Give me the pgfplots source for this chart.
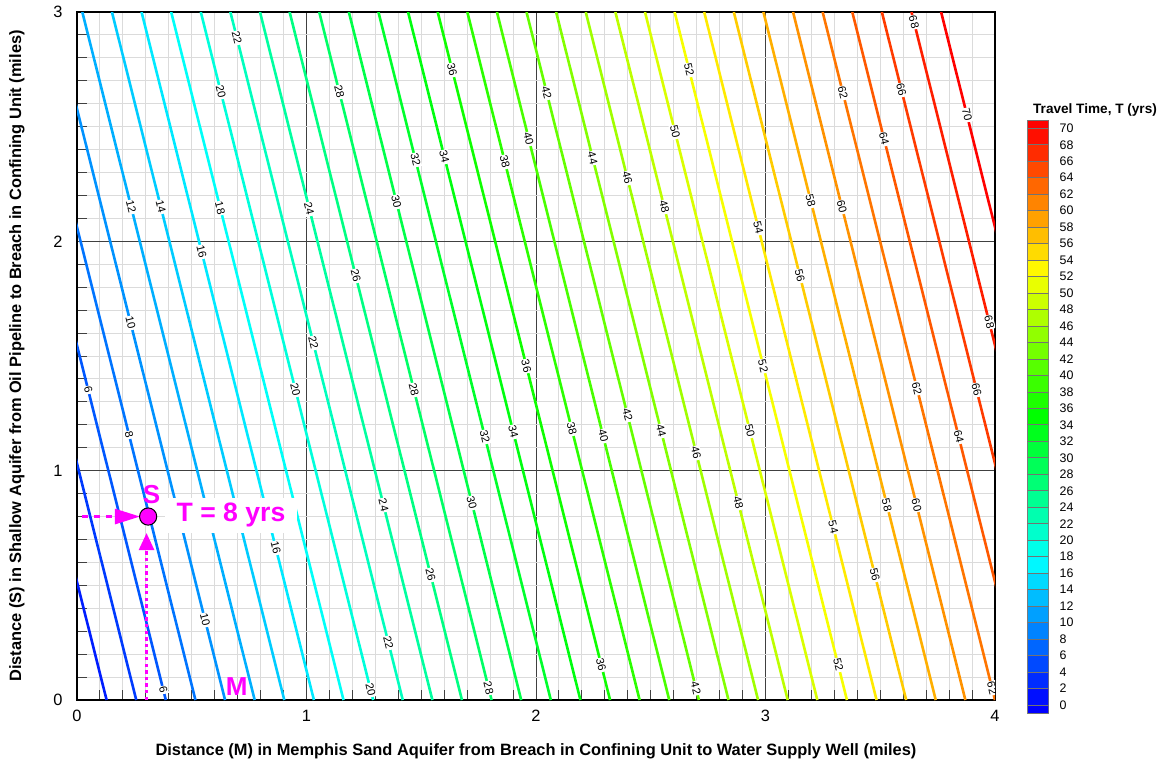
\documentclass[border=0pt]{standalone}
\usepackage{fontspec}
\setmainfont{Liberation Sans}
\usepackage{pgfplots}
\pgfplotsset{compat=1.18}
\usetikzlibrary{arrows.meta}
\definecolor{mag}{RGB}{255,0,255}
\pgfplotsset{colormap={tec}{rgb255=(0,0,255) rgb255=(0,255,255) rgb255=(0,255,0) rgb255=(255,255,0) rgb255=(255,0,0)}}
\pgfplotsset{ct/.style={mesh, line width=1.3pt, no markers, point meta=#1}}
\tikzset{cl/.style={font=\fontsize{5.6}{6}\selectfont, rotate=-76, fill=white, inner sep=0.5pt}}
\begin{document}
\begin{tikzpicture}
\path[use as bounding box] (-38.5pt,-34pt) rectangle (544pt,350pt);
\begin{axis}[
  at={(0pt,0pt)}, anchor=south west,
  scale only axis, width=459pt, height=344pt,
  xmin=0, xmax=4, ymin=0, ymax=3,
  xtick={0,1,2,3,4}, ytick={0,1,2,3},
  minor tick num=9,
  grid=both,
  minor grid style={black!14, line width=0.5pt},
  major grid style={black!75, line width=0.5pt},
  tick pos=left, tick align=inside,
  major tick length=5pt, minor tick length=5pt,
  tick style={black!75, line width=0.5pt},
  axis line style={black, line width=0.9pt},
  /pgf/number format/assume math mode=true,
  ticklabel style={font=\fontsize{8.2}{10}\selectfont},
  xticklabel style={anchor=north, inner sep=0pt, yshift=-5pt},
  yticklabel style={anchor=east, inner sep=0pt, xshift=-7pt},
  point meta min=0, point meta max=70,
]
\addplot[ct=2] coordinates {(0.1290,0) (-0.6232,3)};
\addplot[ct=4] coordinates {(0.2581,0) (-0.4929,3)};
\addplot[ct=6] coordinates {(0.3871,0) (-0.3639,3)};
\addplot[ct=8] coordinates {(0.5161,0) (-0.2348,3)};
\addplot[ct=10] coordinates {(0.6452,0) (-0.1058,3)};
\addplot[ct=12] coordinates {(0.7742,0) (0.0232,3)};
\addplot[ct=14] coordinates {(0.9032,0) (0.1523,3)};
\addplot[ct=16] coordinates {(1.0323,0) (0.2813,3)};
\addplot[ct=18] coordinates {(1.1613,0) (0.4103,3)};
\addplot[ct=20] coordinates {(1.2903,0) (0.5394,3)};
\addplot[ct=22] coordinates {(1.4194,0) (0.6684,3)};
\addplot[ct=24] coordinates {(1.5484,0) (0.7974,3)};
\addplot[ct=26] coordinates {(1.6774,0) (0.9265,3)};
\addplot[ct=28] coordinates {(1.8065,0) (1.0555,3)};
\addplot[ct=30] coordinates {(1.9355,0) (1.1845,3)};
\addplot[ct=32] coordinates {(2.0645,0) (1.3135,3)};
\addplot[ct=34] coordinates {(2.1935,0) (1.4426,3)};
\addplot[ct=36] coordinates {(2.3226,0) (1.5716,3)};
\addplot[ct=38] coordinates {(2.4516,0) (1.7006,3)};
\addplot[ct=40] coordinates {(2.5806,0) (1.8297,3)};
\addplot[ct=42] coordinates {(2.7097,0) (1.9587,3)};
\addplot[ct=44] coordinates {(2.8387,0) (2.0877,3)};
\addplot[ct=46] coordinates {(2.9677,0) (2.2168,3)};
\addplot[ct=48] coordinates {(3.0968,0) (2.3458,3)};
\addplot[ct=50] coordinates {(3.2258,0) (2.4748,3)};
\addplot[ct=52] coordinates {(3.3548,0) (2.6039,3)};
\addplot[ct=54] coordinates {(3.4839,0) (2.7329,3)};
\addplot[ct=56] coordinates {(3.6129,0) (2.8619,3)};
\addplot[ct=58] coordinates {(3.7419,0) (2.9910,3)};
\addplot[ct=60] coordinates {(3.8710,0) (3.1200,3)};
\addplot[ct=62] coordinates {(4.0000,0) (3.2490,3)};
\addplot[ct=64] coordinates {(4.1290,0) (3.3781,3)};
\addplot[ct=66] coordinates {(4.2581,0) (3.5071,3)};
\addplot[ct=68] coordinates {(4.3871,0) (3.6361,3)};
\addplot[ct=70] coordinates {(4.5161,0) (3.7652,3)};
% contour labels
\node[cl] at (axis cs:0.049,1.352) {6};
\node[cl] at (axis cs:0.376,0.044) {6};
\node[cl] at (axis cs:0.227,1.156) {8};
\node[cl] at (axis cs:0.234,1.644) {10};
\node[cl] at (axis cs:0.558,0.349) {10};
\node[cl] at (axis cs:0.236,2.150) {12};
\node[cl] at (axis cs:0.365,2.150) {14};
\node[cl] at (axis cs:0.543,1.954) {16};
\node[cl] at (axis cs:0.866,0.663) {16};
\node[cl] at (axis cs:0.624,2.145) {18};
\node[cl] at (axis cs:0.627,2.651) {20};
\node[cl] at (axis cs:0.952,1.352) {20};
\node[cl] at (axis cs:1.279,0.044) {20};
\node[cl] at (axis cs:0.697,2.887) {22};
\node[cl] at (axis cs:1.030,1.557) {22};
\node[cl] at (axis cs:1.357,0.249) {22};
\node[cl] at (axis cs:1.012,2.141) {24};
\node[cl] at (axis cs:1.336,0.850) {24};
\node[cl] at (axis cs:1.215,1.849) {26};
\node[cl] at (axis cs:1.541,0.545) {26};
\node[cl] at (axis cs:1.143,2.651) {28};
\node[cl] at (axis cs:1.468,1.352) {28};
\node[cl] at (axis cs:1.793,0.052) {28};
\node[cl] at (axis cs:1.392,2.172) {30};
\node[cl] at (axis cs:1.720,0.859) {30};
\node[cl] at (axis cs:1.475,2.355) {32};
\node[cl] at (axis cs:1.777,1.147) {32};
\node[cl] at (axis cs:1.601,2.368) {34};
\node[cl] at (axis cs:1.901,1.169) {34};
\node[cl] at (axis cs:1.635,2.747) {36};
\node[cl] at (axis cs:1.958,1.456) {36};
\node[cl] at (axis cs:2.284,0.153) {36};
\node[cl] at (axis cs:1.864,2.346) {38};
\node[cl] at (axis cs:2.156,1.182) {38};
\node[cl] at (axis cs:1.968,2.446) {40};
\node[cl] at (axis cs:2.293,1.151) {40};
\node[cl] at (axis cs:2.047,2.647) {42};
\node[cl] at (axis cs:2.399,1.243) {42};
\node[cl] at (axis cs:2.697,0.052) {42};
\node[cl] at (axis cs:2.247,2.363) {44};
\node[cl] at (axis cs:2.545,1.173) {44};
\node[cl] at (axis cs:2.398,2.276) {46};
\node[cl] at (axis cs:2.698,1.077) {46};
\node[cl] at (axis cs:2.559,2.150) {48};
\node[cl] at (axis cs:2.882,0.859) {48};
\node[cl] at (axis cs:2.606,2.477) {50};
\node[cl] at (axis cs:2.932,1.173) {50};
\node[cl] at (axis cs:2.667,2.747) {52};
\node[cl] at (axis cs:2.990,1.456) {52};
\node[cl] at (axis cs:3.317,0.153) {52};
\node[cl] at (axis cs:2.969,2.058) {54};
\node[cl] at (axis cs:3.295,0.754) {54};
\node[cl] at (axis cs:3.150,1.849) {56};
\node[cl] at (axis cs:3.476,0.545) {56};
\node[cl] at (axis cs:3.197,2.176) {58};
\node[cl] at (axis cs:3.529,0.850) {58};
\node[cl] at (axis cs:3.333,2.150) {60};
\node[cl] at (axis cs:3.658,0.850) {60};
\node[cl] at (axis cs:3.337,2.647) {62};
\node[cl] at (axis cs:3.660,1.360) {62};
\node[cl] at (axis cs:3.987,0.052) {62};
\node[cl] at (axis cs:3.517,2.446) {64};
\node[cl] at (axis cs:3.842,1.147) {64};
\node[cl] at (axis cs:3.592,2.660) {66};
\node[cl] at (axis cs:3.920,1.352) {66};
\node[cl] at (axis cs:3.647,2.956) {68};
\node[cl] at (axis cs:3.975,1.648) {68};
\node[cl] at (axis cs:3.878,2.551) {70};
% annotation
\addplot[mag, line width=1.3pt, dash pattern=on 3pt off 3pt, -{Triangle[length=12.5pt,width=7.5pt]}] coordinates {(0.02,0.8) (0.2745,0.8)};
\addplot[mag, line width=1.3pt, dash pattern=on 1.7pt off 1.6pt, -{Triangle[length=8.5pt,width=7.5pt]}] coordinates {(0.303,0) (0.303,0.728)};
\addplot[only marks, mark=*, mark size=4.3pt, mark options={fill=mag, draw=black, line width=0.5pt}] coordinates {(0.31,0.8)};
\node[fill=white, minimum width=66pt, minimum height=17.5pt, inner sep=0pt, text=mag, font=\bfseries\fontsize{13.3}{15}\selectfont] at (axis cs:0.671,0.805) {T = 8 yrs};
\node[text=mag, inner sep=0pt, font=\bfseries\fontsize{13}{15}\selectfont] at (axis cs:0.325,0.898) {S};
\node[text=mag, inner sep=0pt, font=\bfseries\fontsize{13}{15}\selectfont] at (axis cs:0.696,0.058) {M};
\end{axis}
\node[font=\bfseries\fontsize{8.2}{10}\selectfont] at (229.5pt,-25.5pt) {Distance (M) in Memphis Sand Aquifer from Breach in Confining Unit to Water Supply Well (miles)};
\node[rotate=90, font=\bfseries\fontsize{8.2}{10}\selectfont] at (-30pt,172pt) {Distance (S) in Shallow Aquifer from Oil Pipeline to Breach in Confining Unit (miles)};
\begin{axis}[
  at={(475.25pt,-6.62pt)}, anchor=south west,
  scale only axis, width=10.5pt, height=296.6pt,
  xmin=0, xmax=1, ymin=-1, ymax=71,
  xtick=\empty, ytick={0,2,...,70},
  yticklabel pos=right,
  major tick length=0pt,
  axis line style={black!50, line width=0.5pt},
  /pgf/number format/assume math mode=true,
  yticklabel style={anchor=west, inner sep=0pt, xshift=5.4pt, font=\fontsize{6.2}{7}\selectfont},
  point meta min=0, point meta max=70,
  enlargelimits=false,
]
\addplot[surf, shader=faceted, faceted color=black!55, mesh/cols=2, point meta=explicit] table[meta=c, row sep=\\] {
x y c\\
0 -1 0\\ 1 -1 0\\
0 0 0\\ 1 0 0\\
0 2 2\\ 1 2 2\\
0 4 4\\ 1 4 4\\
0 6 6\\ 1 6 6\\
0 8 8\\ 1 8 8\\
0 10 10\\ 1 10 10\\
0 12 12\\ 1 12 12\\
0 14 14\\ 1 14 14\\
0 16 16\\ 1 16 16\\
0 18 18\\ 1 18 18\\
0 20 20\\ 1 20 20\\
0 22 22\\ 1 22 22\\
0 24 24\\ 1 24 24\\
0 26 26\\ 1 26 26\\
0 28 28\\ 1 28 28\\
0 30 30\\ 1 30 30\\
0 32 32\\ 1 32 32\\
0 34 34\\ 1 34 34\\
0 36 36\\ 1 36 36\\
0 38 38\\ 1 38 38\\
0 40 40\\ 1 40 40\\
0 42 42\\ 1 42 42\\
0 44 44\\ 1 44 44\\
0 46 46\\ 1 46 46\\
0 48 48\\ 1 48 48\\
0 50 50\\ 1 50 50\\
0 52 52\\ 1 52 52\\
0 54 54\\ 1 54 54\\
0 56 56\\ 1 56 56\\
0 58 58\\ 1 58 58\\
0 60 60\\ 1 60 60\\
0 62 62\\ 1 62 62\\
0 64 64\\ 1 64 64\\
0 66 66\\ 1 66 66\\
0 68 68\\ 1 68 68\\
0 70 70\\ 1 70 70\\
0 71 70\\ 1 71 70\\
};
\end{axis}
\node[font=\bfseries\fontsize{6.8}{8}\selectfont] at (509pt,295pt) {Travel Time, T (yrs)};
\end{tikzpicture}
\end{document}
